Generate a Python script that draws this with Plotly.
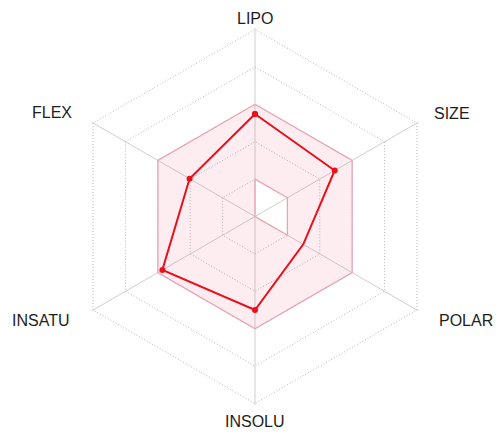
import plotly.graph_objects as go

# ── Data ───────────────────────────────────────────────────────────────────────
CATEGORIES = ["LIPO", "SIZE", "POLAR", "INSOLU", "INSATU", "FLEX"]
MOLECULE   = [1.74, 1.46, 0.49, 1.50, 1.86, 1.02]   # scaled property values
OPT_HIGH   = [2, 2, 2, 2, 2, 2]                     # upper edge of optimal zone
OPT_LOW    = [0, 0, 0, -1, -1, -1]                  # lower edge (-1 = centre)
RING_TICKS = [0, 1, 2, 3, 4]

# label offsets from the radar centre, in pixels (x right, y up)
LABEL_SHIFT = [(0, 198), (197, 103), (211, -104), (0, -205), (-215, -104), (-203, 104)]

# ── Palette ────────────────────────────────────────────────────────────────────
PINK_FILL = "rgba(235,90,130,0.11)"
PINK_LINE = "#e7a6b6"
RED       = "#e8101a"
GRID      = "#b8b8b8"
SPOKE     = "#cfcfcf"
TEXT      = "#1e1e1e"
FONT      = "Liberation Sans, Arial, sans-serif"

W, H = 503, 439
CX, CY, R = 255, 216.5, 188.5   # radar centre / outer radius in px


def closed(seq):
    return list(seq) + [seq[0]]


# optimal zone: outer hexagon, then the inner edge walked the other way -> hole
inner_r = closed(OPT_LOW[::-1][-1:] + OPT_LOW[::-1][:-1])
inner_t = closed(CATEGORIES[::-1][-1:] + CATEGORIES[::-1][:-1])

fig = go.Figure()

fig.add_trace(go.Scatterpolar(
    r=closed(OPT_HIGH) + inner_r,
    theta=closed(CATEGORIES) + inner_t,
    mode="lines", fill="toself", fillcolor=PINK_FILL,
    line=dict(width=0), hoverinfo="skip", showlegend=False,
))
fig.add_trace(go.Scatterpolar(
    r=closed(OPT_HIGH) + [None] + inner_r,
    theta=closed(CATEGORIES) + [None] + inner_t,
    mode="lines", line=dict(color=PINK_LINE, width=1.3),
    connectgaps=False, hoverinfo="skip", showlegend=False,
))
fig.add_trace(go.Scatterpolar(
    r=closed(MOLECULE), theta=closed(CATEGORIES),
    mode="lines+markers",
    line=dict(color=RED, width=2),
    marker=dict(color=RED, size=6),
    showlegend=False,
))

for name, (dx, dy) in zip(CATEGORIES, LABEL_SHIFT):
    fig.add_annotation(
        x=CX / W, y=1 - CY / H, xref="paper", yref="paper",
        xshift=dx, yshift=dy, text=name, showarrow=False,
        font=dict(family=FONT, size=16, color=TEXT),
        xanchor="center", yanchor="middle",
    )

fig.update_layout(
    width=W, height=H,
    paper_bgcolor="white",
    font=dict(family=FONT, color=TEXT, size=16),
    margin=dict(l=0, r=0, t=0, b=0),
    polar=dict(
        domain=dict(x=[(CX - R) / W, (CX + R) / W],
                    y=[1 - (CY + R) / H, 1 - (CY - R) / H]),
        bgcolor="white",
        gridshape="linear",
        radialaxis=dict(
            range=[-1, 4.04], tickvals=RING_TICKS,
            showticklabels=False, ticks="", showline=False,
            gridcolor=GRID, griddash="1px,2px", gridwidth=1,
        ),
        angularaxis=dict(
            direction="clockwise", rotation=90,
            categoryorder="array", categoryarray=CATEGORIES,
            showline=False, gridcolor=SPOKE, gridwidth=1,
            showticklabels=False, ticks="",
        ),
    ),
)

fig.write_html("out.html", config={"displayModeBar": False},
               post_script="document.body.style.margin='0';")
